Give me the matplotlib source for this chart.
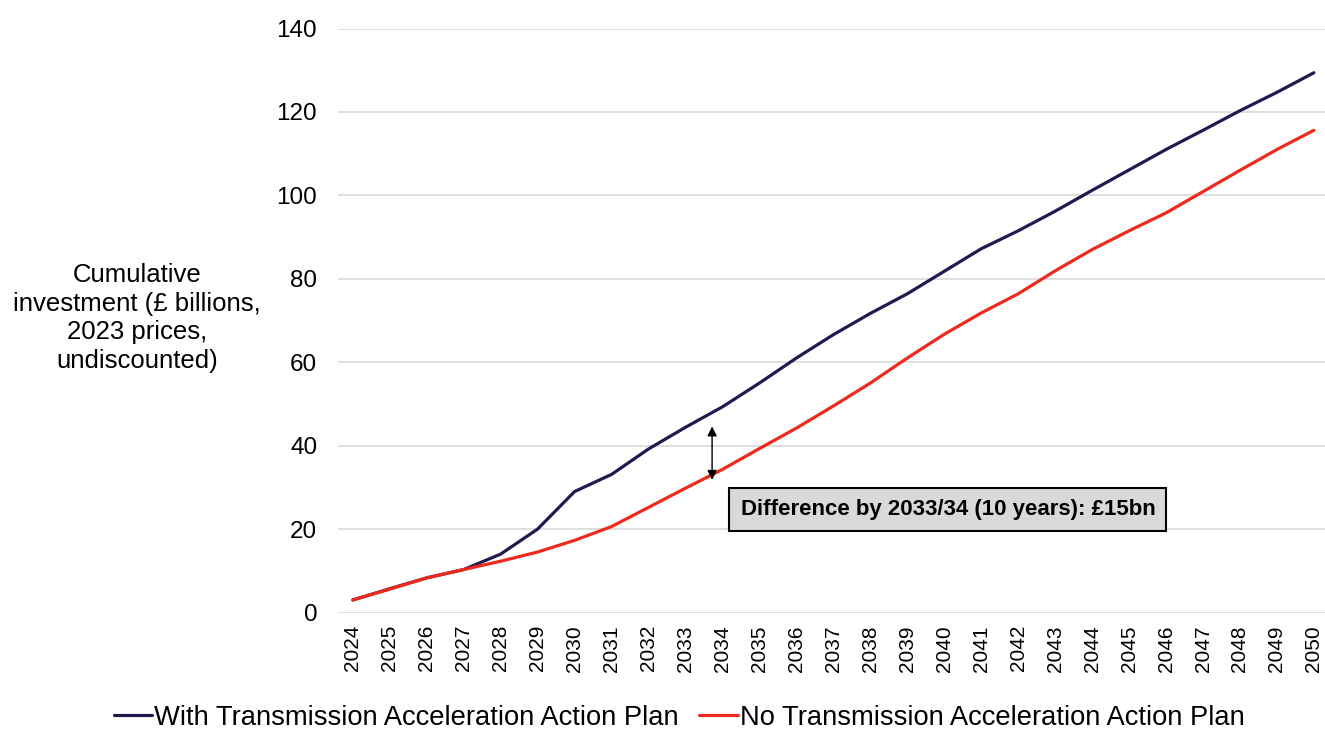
import matplotlib.pyplot as plt

plt.rcParams['font.family'] = ['Liberation Sans', 'DejaVu Sans']

# Cumulative investment, £bn (2023 prices, undiscounted)
years = list(range(2024, 2051))
with_plan = [3.0, 5.7, 8.3, 10.3, 14.0, 20.0, 29.0, 33.1, 39.2, 44.4, 49.3,
             55.0, 61.0, 66.6, 71.7, 76.4, 81.8, 87.2, 91.5, 96.2, 101.2,
             106.1, 111.0, 115.6, 120.3, 124.7, 129.4]
no_plan = [3.0, 5.6, 8.3, 10.3, 12.3, 14.5, 17.3, 20.6, 25.2, 29.8, 34.3,
           39.3, 44.2, 49.5, 55.0, 61.0, 66.7, 71.8, 76.4, 81.9, 87.0,
           91.5, 95.8, 100.9, 106.0, 111.0, 115.6]
labels = ['With Transmission Acceleration Action Plan',
          'No Transmission Acceleration Action Plan']
note = 'Difference by 2033/34 (10 years): £15bn'

fig = plt.figure(figsize=(13.25, 7.29), dpi=100)
ax = fig.add_axes([338 / 1325, 1 - 612.5 / 729, (1325 - 338) / 1325, (612.5 - 28.5) / 729])

ax.plot(years, with_plan, color='#1f1a4f', lw=2.3, label=labels[0], solid_capstyle='round')
ax.plot(years, no_plan, color='#ee2a1e', lw=2.3, label=labels[1], solid_capstyle='round')

ax.set_xlim(2023.6, 2050.3)
ax.set_ylim(0, 140)
ax.set_yticks(range(0, 141, 20))
ax.set_xticks(years)
ax.set_xticklabels([str(y) for y in years], rotation=90, fontsize=15)
ax.tick_params(axis='y', labelsize=17.5, length=0, pad=15)
ax.tick_params(axis='x', length=0, pad=9)
ax.grid(axis='y', color='#d9d9d9', lw=1.2)
ax.set_axisbelow(True)
for s in ax.spines.values():
    s.set_visible(False)

# gap between the two scenarios around 2033/34
ax.annotate('', xy=(2033.72, 31.8), xytext=(2033.72, 44.6),
            arrowprops=dict(arrowstyle='<|-|>', color='black', lw=1,
                            mutation_scale=14, shrinkA=0, shrinkB=0))
ax.text(2040.1, 24.6, note, ha='center', va='center', fontsize=16,
        fontweight='bold',
        bbox=dict(boxstyle='square,pad=0.5', facecolor='#d9d9d9',
                  edgecolor='black', lw=1.5))

fig.text(137 / 1325, 1 - 318 / 729,
         'Cumulative\ninvestment (£ billions,\n2023 prices,\nundiscounted)',
         ha='center', va='center', fontsize=18.5, linespacing=1.25)

fig.legend(loc='center', bbox_to_anchor=(679 / 1325, 1 - 718 / 729), ncol=2,
           frameon=False, fontsize=19.7, handlelength=1.4, handletextpad=0.08,
           columnspacing=0.75)

fig.savefig('out.png', dpi=100)
